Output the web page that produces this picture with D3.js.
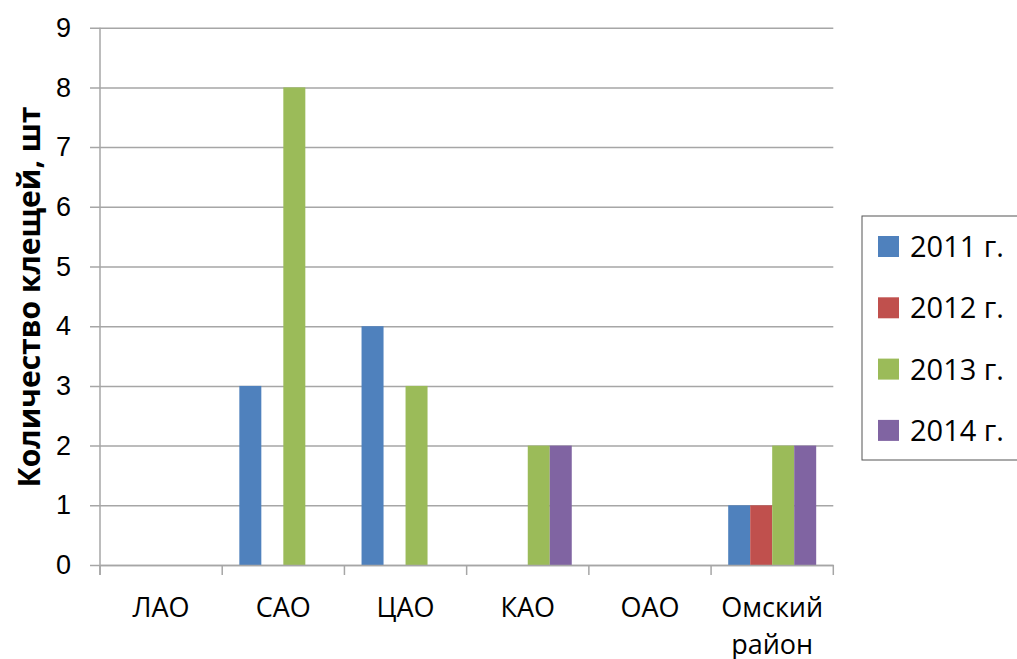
<!DOCTYPE html>
<html>
<head>
<meta charset="utf-8">
<script src="https://cdn.jsdelivr.net/npm/d3@7"></script>
<style>
  body { margin: 0; background: #fff; }
  svg { display: block; font-family: "Open Sans", sans-serif; }
</style>
</head>
<body>
<div id="chart"></div>
<script>
const districts = ["ЛАО", "САО", "ЦАО", "КАО", "ОАО", "Омский район"];
const years = ["2011 г.", "2012 г.", "2013 г.", "2014 г."];
const colors = ["#4f81bd", "#c0504d", "#9bbb59", "#8064a2"];
const v2011 = [0, 3, 4, 0, 0, 1];
const v2012 = [0, 0, 0, 0, 0, 1];
const v2013 = [0, 8, 3, 2, 0, 2];
const v2014 = [0, 0, 0, 2, 0, 2];
const yTicks = [0, 1, 2, 3, 4, 5, 6, 7, 8, 9];

const series = [v2011, v2012, v2013, v2014];
const rows = [];
districts.forEach((d, i) => series.forEach((s, j) => rows.push({ district: d, year: years[j], value: s[i] })));

const W = 1017, H = 659;
const svg = d3.select("#chart").append("svg").attr("width", W).attr("height", H);

const x0 = d3.scaleBand().domain(districts).range([100, 833.3]);
const bw = x0.bandwidth();
const x1 = d3.scaleBand().domain(years).range([bw * 0.14, bw * 0.86]);
const y = d3.scaleLinear().domain([0, 9]).range([565, 27.7]);

// gridlines + y labels
const yAxis = svg.append("g").attr("transform", "translate(100,0)")
  .call(d3.axisLeft(y).tickValues(yTicks).tickSize(10).tickPadding(19).tickFormat(d3.format("d")));
yAxis.select(".domain").remove();
yAxis.selectAll(".tick line").attr("x1", -10).attr("x2", 733.3).attr("stroke", "#a6a6a6").attr("stroke-width", 1.5);
yAxis.selectAll(".tick text").style("font-size", "27px").attr("fill", "#000");

// y axis line
svg.append("line").attr("x1", 100).attr("x2", 100).attr("y1", y(9)).attr("y2", 575)
  .attr("stroke", "#a6a6a6").attr("stroke-width", 1.5);

// bars
svg.append("g").selectAll("rect").data(rows).join("rect")
  .attr("x", d => x0(d.district) + x1(d.year))
  .attr("width", x1.bandwidth())
  .attr("y", d => y(d.value))
  .attr("height", d => y(0) - y(d.value))
  .attr("fill", d => colors[years.indexOf(d.year)]);

// x axis
const xAxis = svg.append("g").attr("transform", `translate(0,${y(0)})`)
  .call(d3.axisBottom(x0).tickSize(0).tickFormat(""));
xAxis.select(".domain").attr("stroke", "#a6a6a6").attr("stroke-width", 1.5);
xAxis.selectAll(".tick").remove();
const bounds = districts.map(d => x0(d)).concat([x0.range()[1]]);
xAxis.selectAll("line.sep").data(bounds).join("line").attr("class", "sep")
  .attr("x1", d => d).attr("x2", d => d).attr("y1", 0).attr("y2", 10)
  .attr("stroke", "#a6a6a6").attr("stroke-width", 1.5);

// x labels
svg.append("g").selectAll("text").data(districts).join("text")
  .attr("x", d => x0(d) + bw / 2)
  .attr("y", 617)
  .attr("text-anchor", "middle")
  .style("font-size", "27px")
  .each(function (d) {
    const parts = d === "Омский район" ? ["Омский", "район"] : [d];
    d3.select(this).selectAll("tspan").data(parts).join("tspan")
      .attr("x", x0(d) + bw / 2)
      .attr("dy", (p, i) => i ? 37 : 0)
      .text(p => p);
  });

// y title
svg.append("text")
  .attr("transform", `translate(40,297) rotate(-90)`)
  .attr("text-anchor", "middle")
  .style("font-size", "30px").style("font-weight", "bold")
  .text("Количество клещей, шт");

// legend
const lg = svg.append("g");
lg.append("rect").attr("x", 862).attr("y", 216).attr("width", 170).attr("height", 244)
  .attr("fill", "#fff").attr("stroke", "#555").attr("stroke-width", 1);
const item = lg.selectAll("g.item").data(years).join("g").attr("class", "item")
  .attr("transform", (d, i) => `translate(878,${246 + i * 61.3})`);
item.append("rect").attr("x", 0).attr("y", -10).attr("width", 21).attr("height", 21)
  .attr("fill", (d, i) => colors[i]);
item.append("text").attr("x", 32).attr("y", 11).style("font-size", "29px").text(d => d);
</script>
</body>
</html>
